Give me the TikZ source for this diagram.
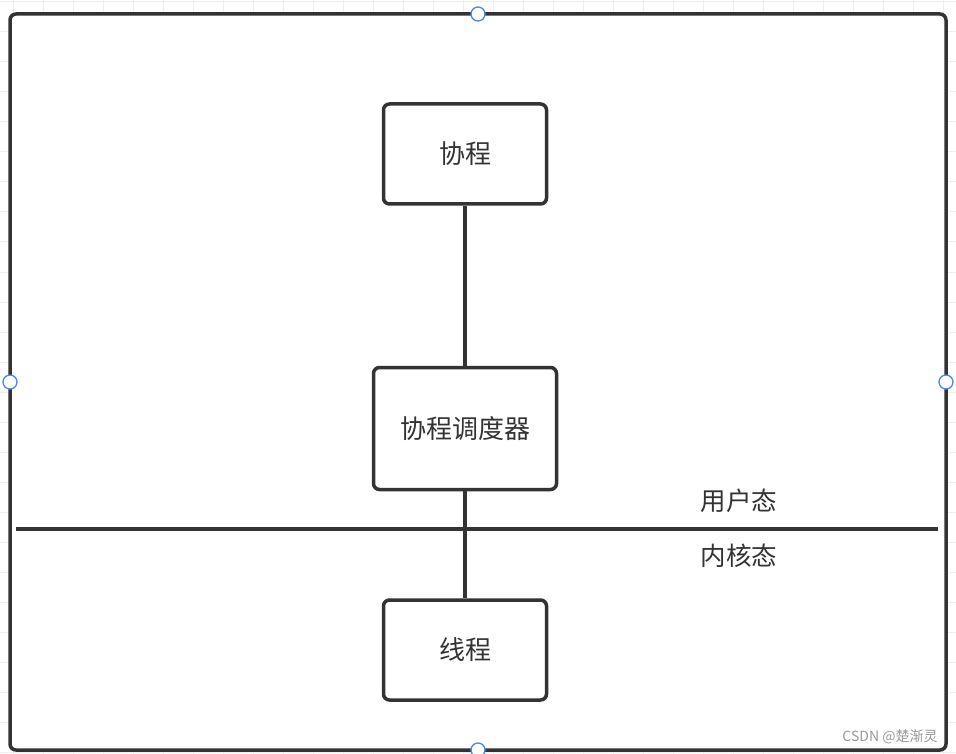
\documentclass[tikz,border=0pt]{standalone}
\usepackage{fontspec}
\newfontfamily\cjk{Noto Sans CJK SC}
\definecolor{ink}{HTML}{333333}
\definecolor{handle}{HTML}{4A86E8}
\definecolor{gridc}{HTML}{EEEEEE}
\begin{document}
\begin{tikzpicture}[x=1pt,y=-1pt,
  box/.style={draw=ink,line width=3.5pt,rounded corners=6pt,fill=white,
    font=\cjk\fontsize{26}{30}\selectfont,text=ink,inner sep=0pt},
  lbl/.style={font=\cjk\fontsize{25.5}{30}\selectfont,text=ink,inner sep=0pt},
  link/.style={draw=ink,line width=3.5pt},
  knob/.style={circle,draw=handle,fill=white,line width=1.3pt,minimum size=14pt,inner sep=0pt}]
\useasboundingbox (0,0) rectangle (956,754);
% background grid
\foreach \x in {13,43,...,943} {
   \draw[gridc,line width=1pt] (\x,0) -- (\x,754);
}
\foreach \y in {2,32,...,752} {
   \draw[gridc,line width=1pt] (0,\y) -- (956,\y);
}
% frame
\draw[ink,line width=3.5pt,rounded corners=6pt,fill=white] (10,14) rectangle (946,750);
% boxes
\node[box,minimum width=163pt,minimum height=100pt] (coro) at (465,154) {协程};
\node[box,minimum width=183pt,minimum height=122pt] (sched) at (465,428.5) {协程调度器};
\node[box,minimum width=163pt,minimum height=100pt] (thread) at (465,650) {线程};
\draw[link] (coro) -- (sched);
\draw[link] (sched) -- (thread);
% user / kernel split
\coordinate (splitL) at (16,529);
\coordinate (splitR) at (938,529);
\draw[link] (splitL) -- (splitR);
\node[lbl] (user) at (739,501) {用户态};
\node[lbl] (kernel) at (739,556) {内核态};
% selection handles
\node[knob] (hn) at (478,14) {};
\node[knob] (hw) at (10,382) {};
\node[knob] (he) at (946,382) {};
\node[knob] (hs) at (478,750) {};
\node[font=\cjk\fontsize{14}{16}\selectfont,text=gray!80,inner sep=0pt] (mark) at (890,737) {CSDN @楚渐灵};
\end{tikzpicture}
\end{document}
